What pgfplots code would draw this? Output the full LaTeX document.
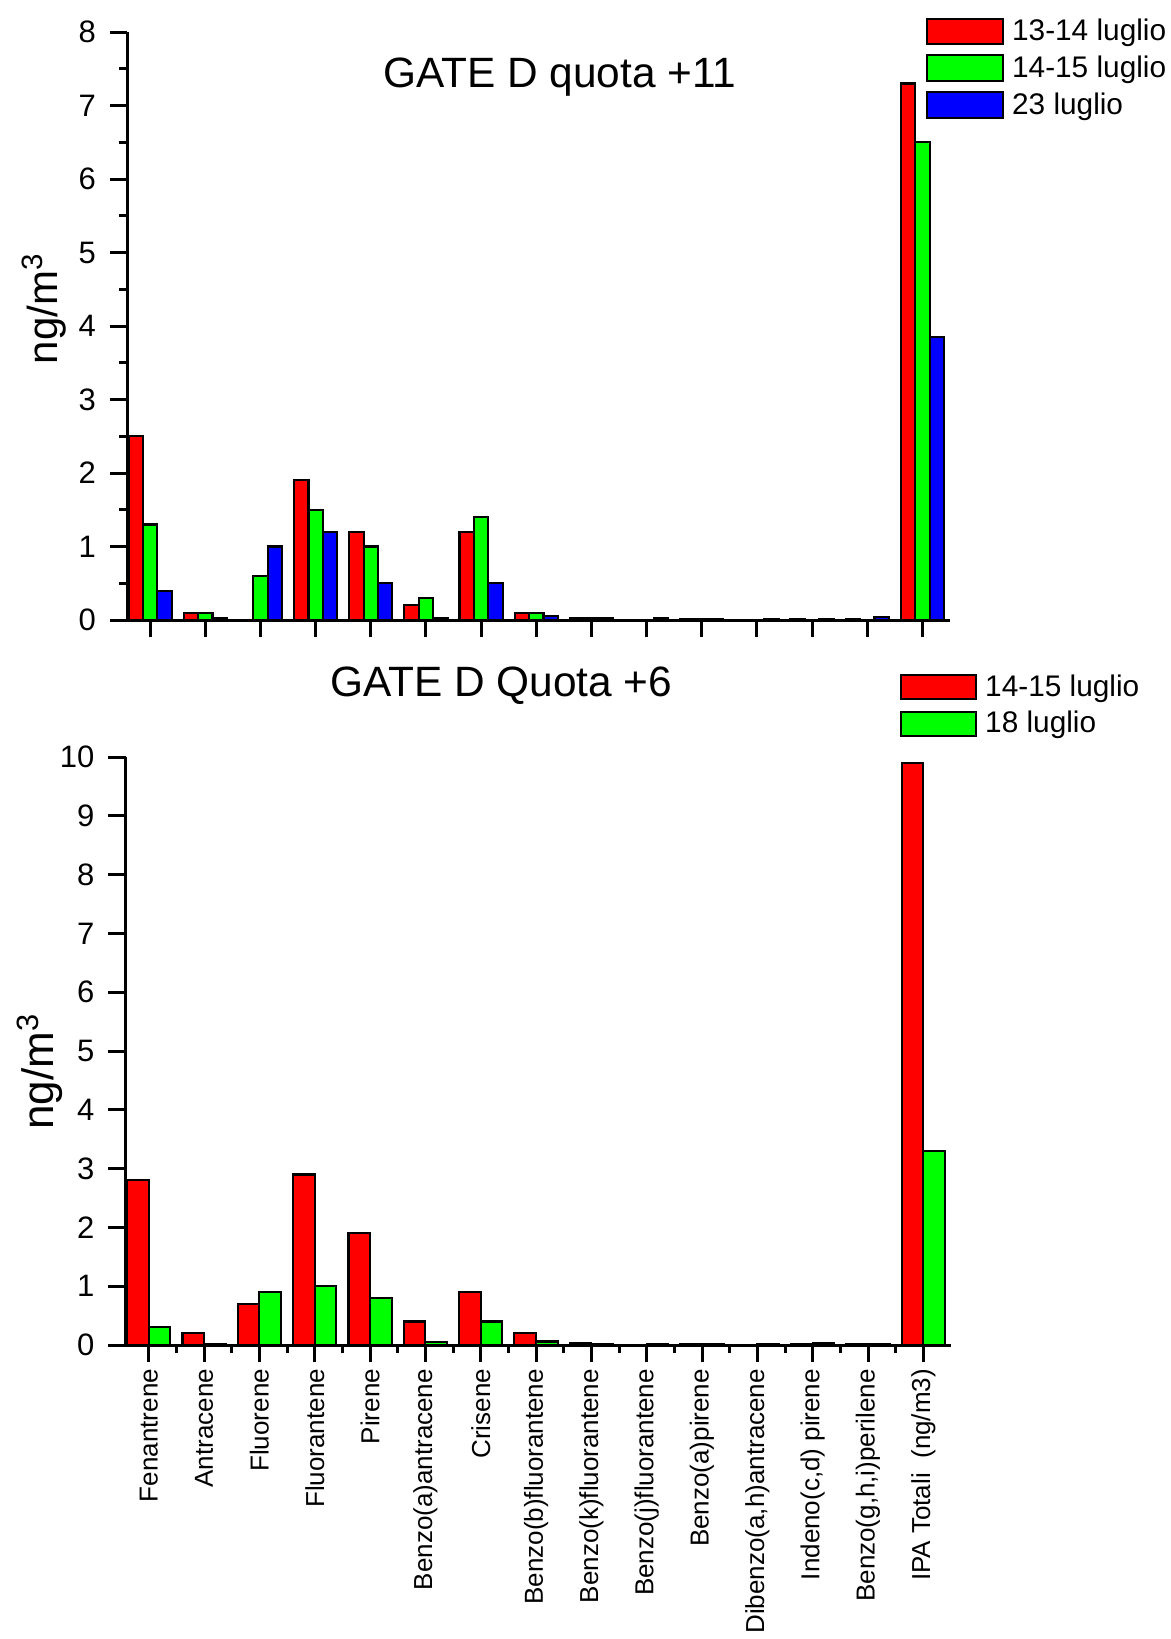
\documentclass[border=0pt]{standalone}
\usepackage{pgfplots}
\pgfplotsset{compat=1.18}
\usepackage{fontspec}
\setmainfont{Liberation Sans}

\pgfplotstableread{
x r g b
0 2.5 1.3 0.4
1 0.1 0.1 0.03
2 0 0.6 1.0
3 1.9 1.5 1.2
4 1.2 1.0 0.5
5 0.2 0.3 0.03
6 1.2 1.4 0.5
7 0.1 0.1 0.05
8 0.02 0.03 0.02
9 0 0 0.02
10 0.01 0.01 0.01
11 0 0 0.01
12 0.01 0 0.01
13 0.01 0.005 0.04
14 7.3 6.5 3.85
}\topdata

\pgfplotstableread{
x r g
0 2.8 0.3
1 0.2 0.02
2 0.7 0.9
3 2.9 1.0
4 1.9 0.8
5 0.4 0.05
6 0.9 0.4
7 0.2 0.06
8 0.04 0.02
9 0.005 0.01
10 0.02 0.01
11 0.005 0.02
12 0.01 0.03
13 0.01 0.01
14 9.9 3.3
}\botdata

\pgfplotsset{
 common/.style={
  scale only axis,
  axis x line=bottom, axis y line=left,
  axis line style={-, line width=1.5bp},
  tick align=outside,
  tick style={black, line width=1.5bp},
  major tick length=8.5bp, minor tick length=4bp,
  ybar=0pt,
  xmin=-0.42, xmax=14.5,
  xtick={0,...,14},
  ymin=0,
  /pgf/number format/assume math mode=true,
  yticklabel style={font=\fontsize{15.5bp}{18bp}\selectfont, xshift=-3.5bp},
  legend style={draw=none, fill=none, inner sep=0pt, anchor=north west,
    font=\fontsize{14.9bp}{17bp}\selectfont, row sep=2bp, column sep=2bp,
    cells={anchor=west}},
  every axis plot/.append style={draw=black, line width=1.05bp},
  title style={anchor=base, yshift=0pt, font=\fontsize{21.2bp}{24bp}\selectfont},
 },
}

\begin{document}
\begin{tikzpicture}
\useasboundingbox (0,0) rectangle (585.5bp,-819.5bp);

\begin{axis}[common,
  at={(63.5bp,-310bp)}, anchor=south west,
  width=411.5bp, height=294bp,
  ymax=8, ytick={0,...,8}, minor y tick num=1,
  bar width=7.2bp,
  xticklabels={},
  ylabel={ng/m\textsuperscript{3}},
  ylabel style={at={(axis description cs:-0.085,0.529)}, anchor=base, font=\fontsize{21bp}{24bp}\selectfont},
  title={GATE D quota +11},
  title style={at={(axis description cs:0.526,0.885)}},
  legend image code/.code={\draw[#1, line width=1bp] (0bp,-6.4bp) rectangle (38bp,6.4bp);},
  legend style={at={(axis description cs:0.9705,1.029)}},
]
\addplot[fill=red] table[x=x,y=r]{\topdata};
\addplot[fill=green] table[x=x,y=g]{\topdata};
\addplot[fill=blue] table[x=x,y=b]{\topdata};
\legend{13-14 luglio,14-15 luglio,23 luglio}
\end{axis}

\begin{axis}[common,
  at={(62.75bp,-672.5bp)}, anchor=south west,
  width=412.75bp, height=294bp,
  ymax=10, ytick={0,...,10},
  minor x tick num=1,
  bar width=10.8bp,
  xticklabels={Fenantrene,Antracene,Fluorene,Fluorantene,Pirene,Benzo(a)antracene,Crisene,Benzo(b)fluorantene,Benzo(k)fluorantene,Benzo(j)fluorantene,Benzo(a)pirene,Dibenzo(a{,}h)antracene,Indeno(c{,}d) pirene,Benzo(g{,}h{,}i)perilene,IPA Totali\ \ (ng/m3)},
  xticklabel style={rotate=90, anchor=east, font=\fontsize{13bp}{16bp}\selectfont},
  ylabel={ng/m\textsuperscript{3}},
  ylabel style={at={(axis description cs:-0.087,0.465)}, anchor=base, font=\fontsize{22bp}{25bp}\selectfont},
  title={GATE D Quota +6},
  title style={at={(axis description cs:0.455,1.082)}},
  legend image code/.code={\draw[#1, line width=1bp] (0bp,-6bp) rectangle (37.7bp,6bp);},
  legend style={at={(axis description cs:0.9375,1.1475)}},
]
\addplot[fill=red] table[x=x,y=r]{\botdata};
\addplot[fill=green] table[x=x,y=g]{\botdata};
\legend{14-15 luglio,18 luglio}
\end{axis}
\end{tikzpicture}
\end{document}
